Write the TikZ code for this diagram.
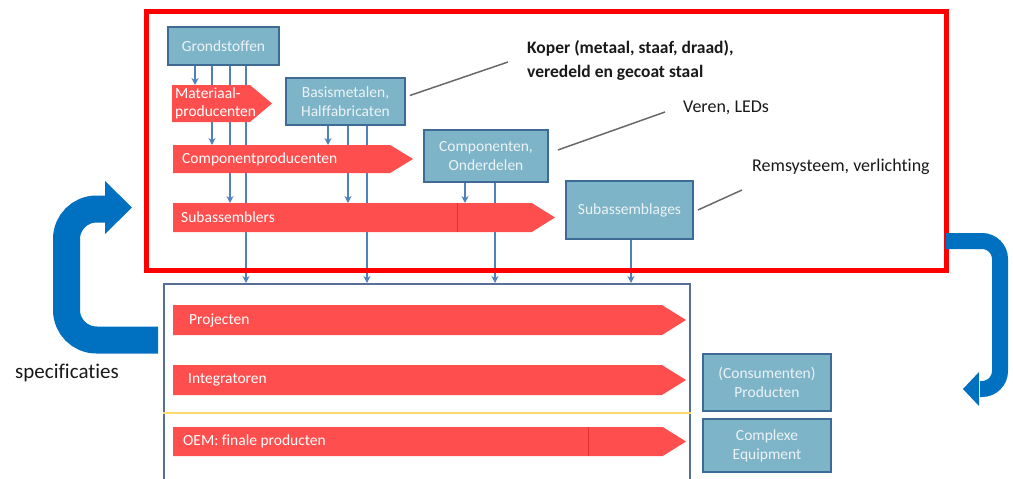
\documentclass[tikz,border=0pt]{standalone}
\usepackage{fontspec}
\setmainfont{Carlito}[Ligatures=NoCommon]
\usetikzlibrary{shapes.symbols,arrows.meta,calc}
\pgfdeclarelayer{bg}
\pgfsetlayers{bg,main}
\definecolor{boxfill}{RGB}{126,180,200}
\definecolor{boxborder}{RGB}{62,106,150}
\definecolor{boxtext}{RGB}{236,243,247}
\definecolor{arrowred}{RGB}{255,78,78}
\definecolor{seamred}{RGB}{225,50,50}
\definecolor{framered}{RGB}{255,0,0}
\definecolor{bigblue}{RGB}{0,112,192}
\definecolor{connblue}{RGB}{79,129,189}
\definecolor{lowerborder}{RGB}{88,112,152}
\definecolor{yline}{RGB}{255,217,110}
\definecolor{leadergray}{RGB}{105,105,105}
\definecolor{labeltext}{RGB}{25,25,25}
\begin{document}
\begin{tikzpicture}[x=1pt,y=-1pt,
  bbox/.style={draw=boxborder, line width=1.8pt, fill=boxfill, text=boxtext,
    font=\fontsize{15.5}{19}\selectfont, align=center, inner sep=0pt},
  band/.style={signal, signal to=east, fill=arrowred, draw=none, inner sep=0pt,
    outer sep=0pt, anchor=west},
  btext/.style={text=white, font=\fontsize{15.5}{18}\selectfont, anchor=west,
    inner sep=0pt, align=left},
  conn/.style={draw=connblue, line width=1.4pt, -{Stealth[length=7pt,width=7pt]}},
  seam/.style={draw=seamred, line width=0.8pt},
  leader/.style={draw=leadergray, line width=1.5pt},
  lbl/.style={text=labeltext, anchor=west, inner sep=0pt, align=left},
  bigarrow/.style={draw=bigblue, rounded corners=#1},
]
\useasboundingbox (0,0) rectangle (1013,479);

% column coordinates
\coordinate (x1) at (195,0);
\coordinate (x2) at (212,0);
\coordinate (x3) at (230,0);
\coordinate (x4) at (246,0);
\coordinate (x5) at (328,0);
\coordinate (x6) at (348,0);
\coordinate (x7) at (367,0);
\coordinate (x8) at (465,0);
\coordinate (x9) at (495,0);
\coordinate (x10) at (631,0);
\coordinate (s1) at (457,0);
\coordinate (s2) at (588,0);
\coordinate (ylev) at (0,413);

% lower container
\node[draw=lowerborder, line width=1.6pt, minimum width=526, minimum height=230,
  anchor=north west, inner sep=0pt] (lower) at (163,283) {};

% boxes
\node[bbox, minimum width=111, minimum height=38] (grond) at (223.5,46) {Grondstoffen};
\node[bbox, minimum width=119, minimum height=47] (basis) at (345.5,101.5) {Basismetalen,\\Halffabricaten};
\node[bbox, minimum width=124, minimum height=52] (compo) at (486,156) {Componenten,\\Onderdelen};
\node[bbox, minimum width=127, minimum height=58] (subg) at (629.5,210) {Subassemblages};
\node[bbox, minimum width=128, minimum height=57] (cons) at (767,382.5) {(Consumenten)\\Producten};
\node[bbox, minimum width=128, minimum height=53] (cmplx) at (767,445.5) {Complexe\\Equipment};

% red bands
\path (172,103.5) node[band, minimum width=100, minimum height=37, signal pointer angle=80] (mat) {};
\path (173,159) node[band, minimum width=240, minimum height=28, signal pointer angle=63] (cp) {};
\path (173,217.5) node[band, minimum width=382, minimum height=29, signal pointer angle=64] (sa) {};
\path (173,320) node[band, minimum width=513, minimum height=30, signal pointer angle=64] (proj) {};
\path (173,380) node[band, minimum width=513, minimum height=30, signal pointer angle=64] (integ) {};
\path (173,441.5) node[band, minimum width=513, minimum height=29, signal pointer angle=64] (oem) {};
\draw[seam] (sa.north -| s1) -- (sa.south -| s1);
\draw[seam] (oem.north -| s2) -- (oem.south -| s2);

% band texts
\node[btext] (matt) at (175,103.5) {Materiaal-\\producenten};
\node[btext] (cpt) at (182,159) {Componentproducenten};
\node[btext] (sat) at (181,217.5) {Subassemblers};
\node[btext] (projt) at (189,320) {Projecten};
\node[btext] (integt) at (188,380) {Integratoren};
\node[btext] (oemt) at (183,441.5) {OEM: finale producten};

% connectors, under bands and boxes
\begin{pgfonlayer}{bg}
\draw[conn] (grond.south -| x1) -- (mat.north -| x1);
\draw[conn] (grond.south -| x2) -- (cp.north -| x2);
\draw[conn] (grond.south -| x3) -- (sa.north -| x3);
\draw[conn] (grond.south -| x4) -- (lower.north -| x4);
\draw[conn] (basis.south -| x5) -- (cp.north -| x5);
\draw[conn] (basis.south -| x6) -- (sa.north -| x6);
\draw[conn] (basis.south -| x7) -- (lower.north -| x7);
\draw[conn] (compo.south -| x8) -- (sa.north -| x8);
\draw[conn] (compo.south -| x9) -- (lower.north -| x9);
\draw[conn] (subg.south -| x10) -- (lower.north -| x10);
\end{pgfonlayer}

% yellow separator
\draw[yline, line width=1.6pt] (lower.west |- ylev) -- (lower.east |- ylev);

% red frame
\node[draw=framered, line width=4.5pt, minimum width=800, minimum height=259,
  anchor=north west, inner sep=0pt] (frame) at (144,9) {};

% leader lines and labels
\coordinate (kend) at (508,62);
\coordinate (vend) at (665,112);
\coordinate (rend) at (742,190);
\draw[leader] ($(basis.east)+(4,-6)$) -- (kend);
\draw[leader] ($(compo.east)+(9,-6)$) -- (vend);
\draw[leader] ($(subg.east)+(4,0)$) -- (rend);
\node[lbl, font=\bfseries\fontsize{17.5}{24}\selectfont] (koper) at (527,60)
  {Koper (metaal, staaf, draad),\\veredeld en gecoat staal};
\node[lbl, font=\fontsize{18}{22}\selectfont] (veren) at (683,108) {Veren, LEDs};
\node[lbl, font=\fontsize{18}{22}\selectfont] (rem) at (752,167) {Remsysteem, verlichting};
\node[lbl, font=\fontsize{21}{24}\selectfont] (spec) at (15,373) {specificaties};

% big blue feedback arrows
\coordinate (la) at (158,340);
\coordinate (lb) at (66.5,340);
\coordinate (lc) at (66.5,209);
\coordinate (ld) at (107,209);
\draw[bigarrow=30pt, line width=27pt] (la) -- (lb) -- (lc) -- (ld);
\fill[bigblue] (105,181) -- (132,207.5) -- (105,234) -- cycle;

\coordinate (ra) at (946,241);
\coordinate (rb) at (1000,241);
\coordinate (rc) at (1000,389);
\coordinate (rd) at (980,389);
\draw[bigarrow=18pt, line width=16pt] (ra) -- (rb) -- (rc) -- (rd);
\fill[bigblue] (979,372) -- (963,389) -- (979,406) -- cycle;
\end{tikzpicture}
\end{document}
